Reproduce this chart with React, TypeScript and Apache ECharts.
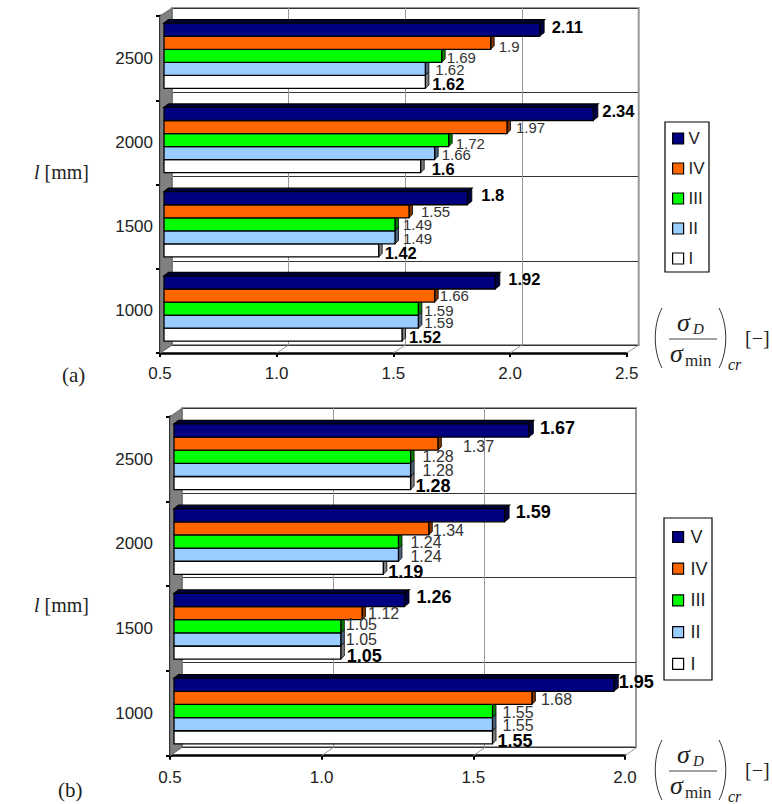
import React, { useEffect, useRef } from "react";
import * as echarts from "echarts";

const categories = ["1000", "1500", "2000", "2500"];
const seriesNames = ["I", "II", "III", "IV", "V"];
const xTicksA = [0.5, 1.0, 1.5, 2.0, 2.5];
const xTicksB = [0.5, 1.0, 1.5, 2.0];

const aI = [1.52, 1.42, 1.6, 1.62];
const aII = [1.59, 1.49, 1.66, 1.62];
const aIII = [1.59, 1.49, 1.72, 1.69];
const aIV = [1.66, 1.55, 1.97, 1.9];
const aV = [1.92, 1.8, 2.34, 2.11];

const bI = [1.55, 1.05, 1.19, 1.28];
const bII = [1.55, 1.05, 1.24, 1.28];
const bIII = [1.55, 1.05, 1.24, 1.28];
const bIV = [1.68, 1.12, 1.34, 1.37];
const bV = [1.95, 1.26, 1.59, 1.67];

const faceColors = ["#FFFFFF", "#99CCFF", "#00FF00", "#FF6600", "#000080"];
const sideColors = ["#808080", "#4D6680", "#008000", "#803300", "#000040"];

// manual label placement (px from the bar end), in the order of the arrays above
const aDx = [
  [7, 6, 11, 7],
  [6, 8, 7, 10],
  [6, 8, 7, 5],
  [5, 12, 9, 8],
  [13, 14, 9, 12],
];
const bDx = [
  [5, 6, 5, 5],
  [10, 5, 12, 12],
  [10, 5, 12, 12],
  [9, 6, 4, 25],
  [5, 12, 11, 11],
];
const aDy = [
  [2, 3, 3, 2],
  [1, 1, 1, 1],
  [2, 0, 3, 2],
  [-0.5, 0.5, 0.5, 3.5],
  [-3, -3, -3, -3],
];
const bDy = [
  [4, 3, 4, 3],
  [1, 0, 2, 1],
  [1, -2, 1, 0],
  [1.5, 0, 2, 2.5],
  [-3, -3, -3, -3],
];

const SANS = "'Liberation Sans', Arial, sans-serif";
const SERIF = "'Liberation Serif', 'Times New Roman', serif";

function barSeries(
  values: number[][],
  dx: number[][],
  dy: number[][],
  xAxisIndex: number,
  yAxisIndex: number,
  normalSize: number,
  boldSize: number
) {
  return values.map((vals, si) => ({
    type: "custom",
    name: seriesNames[si],
    xAxisIndex,
    yAxisIndex,
    itemStyle: { color: faceColors[si] },
    encode: { x: 0, y: 1 },
    data: vals.map((v, ci) => [v, ci]),
    renderItem: (_p: any, api: any) => {
      const v = api.value(0);
      const ci = api.value(1);
      const p0 = api.coord([0.5, ci]);
      const p1 = api.coord([v, ci]);
      const band = api.size([0, 1])[1];
      const h = (band * 0.775) / 5;
      const rank = 4 - si;
      const top = p0[1] - 2.3 - band * 0.3875 + rank * h;
      const left = p0[0] + 4;
      const right = p1[0] + 4;
      const ddx = si === 4 ? 4.5 : 3.5;
      const ddy = 3.5;
      const stroke = { stroke: "#000", lineWidth: 1.3 };
      const children: any[] = [];
      children.push({
        type: "polygon",
        shape: {
          points: [
            [right, top],
            [right + ddx, top - ddy],
            [right + ddx, top + h - ddy],
            [right, top + h],
          ],
        },
        style: { fill: sideColors[si], stroke: "#000", lineWidth: 0.8 },
      });
      if (si === 4) {
        children.push({
          type: "polygon",
          shape: {
            points: [
              [left, top],
              [left + ddx, top - ddy],
              [right + ddx, top - ddy],
              [right, top],
            ],
          },
          style: { fill: sideColors[si], ...stroke },
        });
      }
      children.push({
        type: "rect",
        shape: { x: left, y: top, width: right - left, height: h },
        style: { fill: faceColors[si], ...stroke },
      });
      const bold = si === 0 || si === 4;
      children.push({
        type: "text",
        z2: 100,
        style: {
          text: String(v),
          x: right + dx[si][ci],
          y: top + h / 2 + dy[si][ci],
          align: "left",
          verticalAlign: "middle",
          fill: bold ? "#000" : "#333",
          fontFamily: SANS,
          fontSize: bold ? boldSize : normalSize,
          fontWeight: bold ? "bold" : "normal",
        },
      });
      return { type: "group", children };
    },
  }));
}

function wallSeries(ticks: number[], xAxisIndex: number, yAxisIndex: number, ox: number, oy: number) {
  return {
    type: "custom",
    xAxisIndex,
    yAxisIndex,
    silent: true,
    z: 1,
    encode: { x: 0 },
    data: ticks.map((t) => [t, 0]),
    renderItem: (p: any, api: any) => {
      const c = api.coord([api.value(0), 0]);
      const cs = p.coordSys;
      const bottom = cs.y + cs.height;
      const children: any[] = [
        {
          type: "line",
          shape: { x1: c[0], y1: bottom, x2: c[0] + ox, y2: bottom - oy },
          style: { stroke: "#999", lineWidth: 1 },
        },
      ];
      if (p.dataIndex === 0) {
        children.push({
          type: "polygon",
          shape: {
            points: [
              [cs.x, cs.y],
              [cs.x + ox, cs.y - oy],
              [cs.x + ox, bottom - oy],
              [cs.x, bottom],
            ],
          },
          style: { fill: "#808080", stroke: "#666", lineWidth: 1 },
        });
      }
      return { type: "group", children };
    },
  };
}

function frontAxes(grid: number, max: number, yMargin: number, xMargin: number) {
  return {
    x: {
      type: "value",
      gridIndex: grid,
      min: 0.5,
      max,
      interval: 0.5,
      axisLine: { show: true, onZero: false, lineStyle: { color: "#000", width: 2.5 } },
      axisTick: { show: true, length: 4, lineStyle: { color: "#000", width: 2 } },
      splitLine: { show: false },
      axisLabel: {
        margin: xMargin,
        fontSize: 17,
        fontFamily: SANS,
        color: "#222",
        formatter: (v: number) => v.toFixed(1),
      },
    },
    y: {
      type: "category",
      gridIndex: grid,
      data: categories,
      axisLine: { show: true, onZero: false, lineStyle: { color: "#000", width: 3 } },
      axisTick: { show: true, length: 4, lineStyle: { color: "#000", width: 2 } },
      splitLine: { show: false },
      axisLabel: { margin: yMargin, fontSize: 17, fontFamily: SANS, color: "#222" },
    },
  };
}

function backAxes(grid: number, max: number) {
  return {
    x: {
      type: "value",
      gridIndex: grid,
      min: 0.5,
      max,
      interval: 0.5,
      axisLine: { show: false },
      axisTick: { show: false },
      axisLabel: { show: false },
      splitLine: { show: true, lineStyle: { color: "#999", width: 1 } },
    },
    y: {
      type: "category",
      gridIndex: grid,
      data: categories,
      axisLine: { show: false },
      axisTick: { show: false },
      axisLabel: { show: false },
      splitLine: { show: true, lineStyle: { color: "#333", width: 1 } },
    },
  };
}

function annotations(dy: number, lY: number, tagText: string, tagX: number, tagY: number) {
  const t = (text: string, x: number, y: number, fontSize: number, fontStyle = "normal") => ({
    type: "text",
    z: 10,
    style: {
      text,
      x,
      y,
      fontFamily: SERIF,
      fontSize,
      fontStyle,
      fill: "#222",
      verticalAlign: "middle",
    },
  });
  const paren = (x1: number, cx: number) => ({
    type: "bezierCurve",
    z: 10,
    shape: {
      x1,
      y1: 308 + dy,
      x2: x1,
      y2: 368 + dy,
      cpx1: cx,
      cpy1: 325 + dy,
      cpx2: cx,
      cpy2: 351 + dy,
    },
    style: { stroke: "#333", lineWidth: 1, fill: "none" },
  });
  return [
    t("σ", 677, 322 + dy, 26, "italic"),
    t("D", 693, 329 + dy, 15, "italic"),
    {
      type: "line",
      z: 10,
      shape: { x1: 669, y1: 339 + dy, x2: 717, y2: 339 + dy },
      style: { stroke: "#444", lineWidth: 1 },
    },
    t("σ", 670, 353 + dy, 26, "italic"),
    t("min", 685, 360 + dy, 17),
    t("cr", 728, 364 + dy, 16, "italic"),
    t("[−]", 745, 338 + dy, 20),
    paren(662, 653),
    paren(719, 728),
    {
      type: "text",
      z: 10,
      style: {
        text: "{i|l} [mm]",
        x: 34,
        y: lY,
        verticalAlign: "middle",
        fontFamily: SERIF,
        fontSize: 20,
        fill: "#222",
        rich: { i: { fontStyle: "italic", fontFamily: SERIF, fontSize: 20, fill: "#222" } },
      },
    },
    t(tagText, tagX, tagY, 21),
  ];
}

const legendNames = [...seriesNames].reverse();

function legend(top: number, gap: number, fontSize: number, pad: number) {
  return {
    left: 672,
    top,
    orient: "vertical",
    data: legendNames,
    icon: "rect",
    itemWidth: 11,
    itemHeight: 11,
    itemGap: gap,
    selectedMode: false,
    padding: 0,
    itemStyle: { borderColor: "#000", borderWidth: 1.2 },
    textStyle: { fontSize, fontFamily: SANS, color: "#222", lineHeight: 16, padding: [0, 0, 0, pad] },
  };
}

export default function App() {
  const ref = useRef<HTMLDivElement>(null);
  useEffect(() => {
    document.body.style.margin = "0";
    const chart = echarts.init(ref.current!, undefined, { renderer: "svg" });
    const aFront = frontAxes(0, 2.5, 7, 12);
    const aBack = backAxes(1, 2.5);
    const bFront = frontAxes(2, 2.0, 17, 13);
    const bBack = backAxes(3, 2.0);
    chart.setOption({
      animation: false,
      backgroundColor: "#fff",
      grid: [
        { left: 160, top: 16, width: 466.7, height: 337 },
        { left: 172, top: 8, width: 466.7, height: 337, show: true, borderColor: "#999", borderWidth: 2, backgroundColor: "#fff" },
        { left: 170, top: 416.7, width: 455, height: 339 },
        { left: 182, top: 408, width: 454, height: 339, show: true, borderColor: "#999", borderWidth: 2, backgroundColor: "#fff" },
      ],
      xAxis: [aFront.x, aBack.x, bFront.x, bBack.x],
      yAxis: [aFront.y, aBack.y, bFront.y, bBack.y],
      legend: [legend(130, 13, 17, 0), legend(528, 13.7, 18, 2)],
      series: [
        wallSeries(xTicksA, 0, 0, 12, 8),
        wallSeries(xTicksB, 2, 2, 12, 8.5),
        ...barSeries([aI, aII, aIII, aIV, aV], aDx, aDy, 0, 0, 15, 16.5),
        ...barSeries([bI, bII, bIII, bIV, bV], bDx, bDy, 2, 2, 16, 18),
      ],
      graphic: {
        elements: [
          {
            type: "rect",
            z: 3,
            shape: { x: 665, y: 122, width: 44, height: 150 },
            style: { fill: "#fff", stroke: "#000", lineWidth: 1.2 },
          },
          {
            type: "rect",
            z: 3,
            shape: { x: 664, y: 518, width: 48, height: 162 },
            style: { fill: "#fff", stroke: "#000", lineWidth: 1.2 },
          },
          ...annotations(0, 172, "(a)", 62, 375),
          ...annotations(432, 605, "(b)", 58, 790),
        ],
      },
    });
    return () => chart.dispose();
  }, []);
  return <div ref={ref} style={{ position: "absolute", left: 0, top: 0, width: 772, height: 804 }} />;
}
